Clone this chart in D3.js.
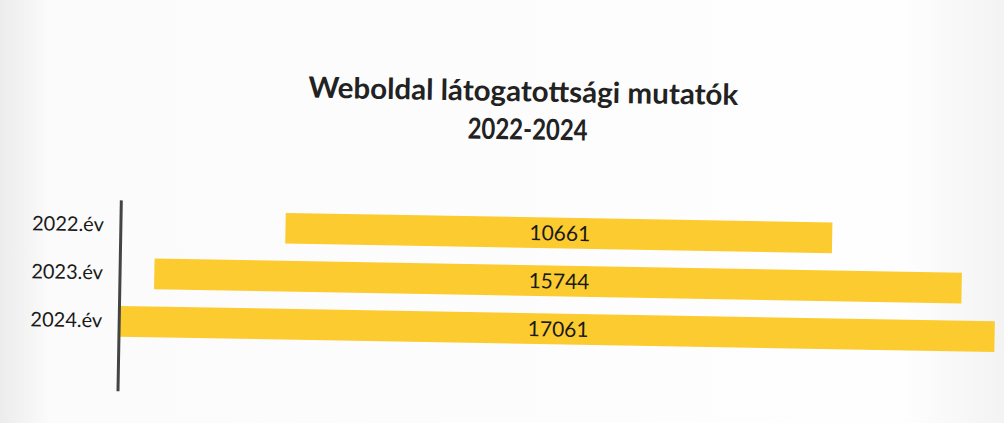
<!DOCTYPE html>
<html><head><meta charset="utf-8">
<script src="https://cdn.jsdelivr.net/npm/d3@7"></script>
<style>
html,body{margin:0;padding:0;background:#fdfdfd;}
svg{display:block;}
</style></head>
<body>
<svg id="chart" width="1004" height="423"></svg>
<script>
const categories = ["2022.év", "2023.év", "2024.év"];
const values = [10661, 15744, 17061];
const titleLines = ["Weboldal látogatottsági mutatók", "2022-2024"];

const W = 1004, H = 423;
const svg = d3.select("#chart");
const font = "Lato, 'Open Sans', sans-serif";

// faint scan shading
const defs = svg.append("defs");
const grad = defs.append("linearGradient").attr("id","bg").attr("x1","0").attr("x2","1");
grad.append("stop").attr("offset","0").attr("stop-color","#ececec");
grad.append("stop").attr("offset","0.05").attr("stop-color","#fbfbfb");
grad.append("stop").attr("offset","0.9").attr("stop-color","#fefefe");
grad.append("stop").attr("offset","1").attr("stop-color","#f3f3f3");
svg.append("rect").attr("width",W).attr("height",H).attr("fill","url(#bg)");

const cx = 558, cy = 280;
const g = svg.append("g").attr("transform", `rotate(1, ${cx}, ${cy})`);

const y = d3.scaleBand().domain(categories).range([209, 353]).paddingInner(0.36).paddingOuter(0.18);
const w = d3.scaleLinear().domain([0, d3.max(values)]).range([0, 875]);

// title
g.append("text").attr("x", 520).attr("y", 102).attr("text-anchor","middle")
 .attr("font-family", font).attr("font-weight","bold").attr("font-size", 29).attr("fill","#222")
 .attr("textLength", 430).attr("lengthAdjust","spacingAndGlyphs")
 .text(titleLines[0]);
g.append("text").attr("x", 525).attr("y", 140).attr("text-anchor","middle")
 .attr("font-family", font).attr("font-weight","bold").attr("font-size", 29).attr("fill","#222")
 .attr("textLength", 120).attr("lengthAdjust","spacingAndGlyphs")
 .text(titleLines[1]);

// bars
g.selectAll("rect.bar").data(values).join("rect").attr("class","bar")
 .attr("x", d => cx - w(d)/2)
 .attr("y", (d,i) => y(categories[i]))
 .attr("width", d => w(d))
 .attr("height", y.bandwidth())
 .attr("fill", "#fccb2f");

// value labels
g.selectAll("text.val").data(values).join("text").attr("class","val")
 .attr("x", cx + 1)
 .attr("y", (d,i) => y(categories[i]) + y.bandwidth()/2)
 .attr("dy","0.36em")
 .attr("text-anchor","middle")
 .attr("font-family", font).attr("font-size", 21).attr("fill","#1a1a1a")
 .text(d => d);

// axis
const axis = g.append("g").attr("transform","translate(120,0)")
  .call(d3.axisLeft(y).tickSize(0).tickPadding(17));
axis.select(".domain").remove();
axis.append("line").attr("x1",0).attr("x2",0).attr("y1",208).attr("y2",399)
  .attr("stroke","#444").attr("stroke-width",3);
axis.selectAll(".tick text").attr("font-family", font).attr("font-size", 20).attr("fill","#1a1a1a");
</script>
</body></html>
